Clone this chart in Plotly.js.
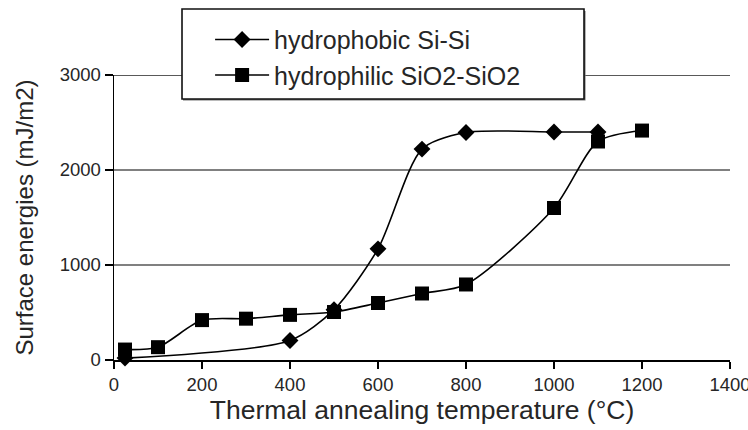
<!DOCTYPE html>
<html>
<head>
<meta charset="utf-8">
<script src="https://cdn.plot.ly/plotly-3.0.1.min.js"></script>
<style>
  html, body { margin: 0; padding: 0; background: #fff; }
  #chart { width: 748px; height: 430px; }
</style>
</head>
<body>
<div id="chart"></div>
<script>
// Data
const seriesNames = ["hydrophobic Si-Si", "hydrophilic SiO2-SiO2"];
const hydrophobicTemp = [25, 400, 500, 600, 700, 800, 1000, 1100];
const hydrophobicEnergy = [20, 205, 530, 1170, 2220, 2395, 2400, 2400];
const hydrophilicTemp = [25, 100, 200, 300, 400, 500, 600, 700, 800, 1000, 1100, 1200];
const hydrophilicEnergy = [110, 135, 420, 435, 475, 505, 600, 700, 795, 1600, 2300, 2415];
const xTicks = [0, 200, 400, 600, 800, 1000, 1200, 1400];
const yTicks = [0, 1000, 2000, 3000];
const xTitle = "Thermal annealing temperature (°C)";
const yTitle = "Surface energies (mJ/m2)";

const FONT = "'Liberation Sans', Arial, Helvetica, sans-serif";
const TXT = "#262626";

const traces = [
  {
    x: hydrophobicTemp, y: hydrophobicEnergy, name: seriesNames[0],
    type: "scatter", mode: "lines+markers", cliponaxis: false,
    line: { color: "#000", width: 1.6, shape: "spline", smoothing: 0.75 },
    marker: { symbol: "diamond", size: 13, color: "#000" }
  },
  {
    x: hydrophilicTemp, y: hydrophilicEnergy, name: seriesNames[1],
    type: "scatter", mode: "lines+markers", cliponaxis: false,
    line: { color: "#000", width: 1.6, shape: "spline", smoothing: 0.75 },
    marker: { symbol: "square", size: 14, color: "#000" }
  }
];

const layout = {
  width: 748, height: 430,
  margin: { l: 114, r: 18, t: 75, b: 70 },
  paper_bgcolor: "#fff", plot_bgcolor: "#fff",
  font: { family: FONT, color: TXT },
  showlegend: true,
  legend: {
    x: 0.156, xanchor: "left", y: 1.2045, yanchor: "top",
    bgcolor: "rgba(0,0,0,0)", borderwidth: 0,
    font: { family: FONT, size: 25, color: TXT },
    itemwidth: 54, tracegroupgap: 0
  },
  xaxis: {
    range: [0, 1400], tickvals: xTicks, ticktext: xTicks.map(String),
    showgrid: false, zeroline: false,
    showline: true, linecolor: "#000", linewidth: 1.5,
    ticks: "outside", ticklen: 7, tickwidth: 1.5, tickcolor: "#000",
    ticklabeloverflow: "allow",
    tickfont: { family: FONT, size: 18.5, color: TXT },
    title: { text: xTitle, font: { family: FONT, size: 26.5, color: TXT }, standoff: 5 }
  },
  yaxis: {
    range: [0, 3000], tickvals: yTicks, ticktext: yTicks.map(String),
    showgrid: true, gridcolor: "#808080", gridwidth: 2.5,
    zeroline: false,
    showline: true, linecolor: "#000", linewidth: 1.5,
    ticks: "outside", ticklen: 8, tickwidth: 1.5, tickcolor: "#000",
    tickfont: { family: FONT, size: 18.5, color: TXT },
    title: { text: yTitle, font: { family: FONT, size: 24, color: TXT }, standoff: 19 }
  },
  shapes: [
    // dark top gridline at 3000
    { type: "line", xref: "paper", yref: "y", x0: 0, x1: 1, y0: 3000, y1: 3000,
      line: { color: "#222", width: 1.6 }, layer: "below" },
    // legend frame shadow
    { type: "rect", xref: "paper", yref: "paper",
      x0: 0.1120, x1: 0.7655, y0: 0.9105, y1: 1.2245,
      fillcolor: "#777", line: { width: 0 }, layer: "above" },
    // legend frame
    { type: "rect", xref: "paper", yref: "paper",
      x0: 0.1104, x1: 0.7630, y0: 0.9158, y1: 1.2316,
      fillcolor: "#fff", line: { color: "#111", width: 1.6 }, layer: "above" }
  ]
};

Plotly.newPlot("chart", traces, layout, { staticPlot: true, displayModeBar: false });
</script>
</body>
</html>
